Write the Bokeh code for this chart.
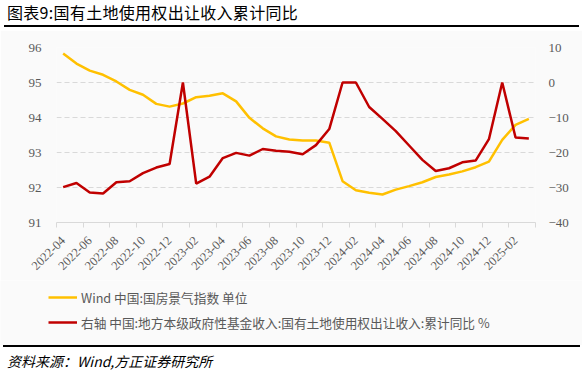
import math
from bokeh.plotting import figure
from bokeh.layouts import column
from bokeh.models import (Range1d, LinearAxis, FixedTicker, Legend, LegendItem,
                          ColumnDataSource, Div)
from bokeh.embed import file_html
from bokeh.resources import INLINE

# ---------------- data ----------------
months = ["2022-04", "2022-05", "2022-06", "2022-07", "2022-08", "2022-09",
          "2022-10", "2022-11", "2022-12", "2023-01", "2023-02", "2023-03",
          "2023-04", "2023-05", "2023-06", "2023-07", "2023-08", "2023-09",
          "2023-10", "2023-11", "2023-12", "2024-01", "2024-02", "2024-03",
          "2024-04", "2024-05", "2024-06", "2024-07", "2024-08", "2024-09",
          "2024-10", "2024-11", "2024-12", "2025-01", "2025-02", "2025-03"]

climate_index = [95.83, 95.54, 95.34, 95.22, 95.03, 94.79, 94.65, 94.39, 94.31,
                 94.40, 94.58, 94.62, 94.69, 94.46, 93.99, 93.69, 93.46, 93.37,
                 93.34, 93.34, 93.28, 92.18, 91.92, 91.85, 91.80, 91.94, 92.04,
                 92.15, 92.30, 92.37, 92.46, 92.58, 92.74, 93.36, 93.79, 93.96]

land_yoy = [-29.9, -28.7, -31.4, -31.7, -28.5, -28.2, -25.9, -24.3, -23.3,
            0.0, -28.9, -26.9, -21.6, -20.1, -20.9, -19.0, -19.5, -19.8,
            -20.5, -17.9, -13.3, 0.0, 0.0, -7.0, -10.4, -13.9, -18.0,
            -22.1, -25.3, -24.5, -22.8, -22.3, -16.2, 0.0, -15.7, -16.0]

left_ticks = [91, 92, 93, 94, 95, 96]
right_ticks = [-40, -30, -20, -10, 0, 10]

series_names = ["Wind 中国:国房景气指数 单位",
                "右轴 中国:地方本级政府性基金收入:国有土地使用权出让收入:累计同比 %"]
series_colors = ["#FFC000", "#C00000"]
title_text = "图表9:国有土地使用权出让收入累计同比"
source_text = "资料来源：Wind,方正证券研究所"

# ---------------- styling ----------------
CJK = "Noto Sans CJK SC"
SERIF = "Liberation Serif"
GRAY = "#595959"
BG = "#fafafa"

src = ColumnDataSource(dict(x=list(range(len(months))), idx=climate_index, yoy=land_yoy))

p = figure(width=582, height=250, output_backend="svg", toolbar_location=None,
           x_range=Range1d(-0.5, len(months) - 0.5), y_range=Range1d(91, 96),
           min_border_left=56, min_border_right=47, min_border_top=17,
           min_border_bottom=58, margin=0, frame_align=False)
p.outline_line_color = None
p.background_fill_color = BG
p.border_fill_color = BG
p.extra_y_ranges = {"right": Range1d(-40, 10)}

r1 = p.line("x", "idx", source=src, line_color=series_colors[0], line_width=2.5)
r2 = p.line("x", "yoy", source=src, line_color=series_colors[1], line_width=2.5,
            y_range_name="right")

# x axis
xa = p.xaxis[0]
xa.ticker = FixedTicker(ticks=list(range(0, len(months), 2)),
                        minor_ticks=[i - 0.5 for i in range(0, len(months) + 1, 2)])
xa.major_label_overrides = {i: months[i] for i in range(0, len(months), 2)}
xa.major_label_orientation = math.pi / 4
xa.major_tick_line_color = None
xa.major_tick_out = 0
xa.minor_tick_in = 0
xa.minor_tick_out = 5
xa.minor_tick_line_color = "#d9d9d9"
xa.axis_line_color = "#d9d9d9"
xa.major_label_text_font = SERIF
xa.major_label_text_font_size = "12.5px"
xa.major_label_text_color = GRAY
xa.major_label_standoff = 11

# left axis
ya = p.yaxis[0]
ya.ticker = FixedTicker(ticks=left_ticks)
ya.axis_line_color = None
ya.major_tick_line_color = None
ya.minor_tick_line_color = None
ya.major_tick_out = 0
ya.major_label_standoff = 15
ya.major_label_text_font = SERIF
ya.major_label_text_font_size = "13px"
ya.major_label_text_color = GRAY

# right axis
yr = LinearAxis(y_range_name="right", ticker=FixedTicker(ticks=right_ticks))
yr.axis_line_color = None
yr.major_tick_line_color = None
yr.minor_tick_line_color = None
yr.major_tick_out = 0
yr.major_label_standoff = 13
yr.major_label_text_font = SERIF
yr.major_label_text_font_size = "13px"
yr.major_label_text_color = GRAY
p.add_layout(yr, "right")

# grid
p.xgrid.grid_line_color = None
p.ygrid.ticker = FixedTicker(ticks=left_ticks[1:])
p.ygrid.grid_line_color = "#d9d9d9"
p.ygrid.grid_line_dash = "5 3"
p.ygrid.grid_line_width = 1

# ---------------- legend strip ----------------
pl = figure(width=582, height=60, output_backend="svg", toolbar_location=None,
            x_range=Range1d(0, 1), y_range=Range1d(0, 1),
            x_axis_type=None, y_axis_type=None, min_border=0, margin=0,
            frame_align=False)
pl.outline_line_color = None
pl.background_fill_color = BG
pl.border_fill_color = BG
# key renderers sit outside the visible range; only their legend swatches show
k1 = pl.line([5, 6], [5, 5], line_color=series_colors[0], line_width=2.5)
k2 = pl.line([5, 6], [5, 5], line_color=series_colors[1], line_width=2.5)
legend = Legend(items=[LegendItem(label=series_names[0], renderers=[k1]),
                       LegendItem(label=series_names[1], renderers=[k2])],
                location=(48, 8), orientation="vertical",
                border_line_color=None, background_fill_alpha=0,
                padding=0, margin=0, spacing=5,
                glyph_width=29, glyph_height=20, label_height=20,
                label_standoff=4, label_text_font=CJK,
                label_text_font_size="12.7px", label_text_color=GRAY)
pl.add_layout(legend)

# ---------------- title + rule, rule + source ----------------
title_div = Div(
    text=('<div style="position:relative;width:582px;height:30px;background:white">'
          f'<div style="position:absolute;left:7px;top:2px;font-family:\'{CJK}\';'
          'font-size:16px;letter-spacing:0.3px;line-height:21px;color:black;'
          f'white-space:nowrap">{title_text}</div>'
          '<div style="position:absolute;left:4px;top:25px;width:575px;height:2.3px;'
          'background:black"></div></div>'),
    width=582, height=30, margin=0)

footer_div = Div(
    text=('<div style="position:relative;width:582px;height:36px;background:white">'
          '<div style="position:absolute;left:0px;top:0px;width:582px;height:5px;'
          f'background:{BG}"></div>'
          '<div style="position:absolute;left:3px;top:5px;width:577px;height:2.3px;'
          'background:black"></div>'
          f'<div style="position:absolute;left:7px;top:11px;font-family:\'{CJK}\';'
          'font-size:14px;font-style:italic;line-height:20px;color:black;'
          f'white-space:nowrap">{source_text}</div></div>'),
    width=582, height=36, margin=0)

layout = column(title_div, p, pl, footer_div, spacing=0, margin=0)

open("out.html", "w").write(file_html(layout, INLINE))
